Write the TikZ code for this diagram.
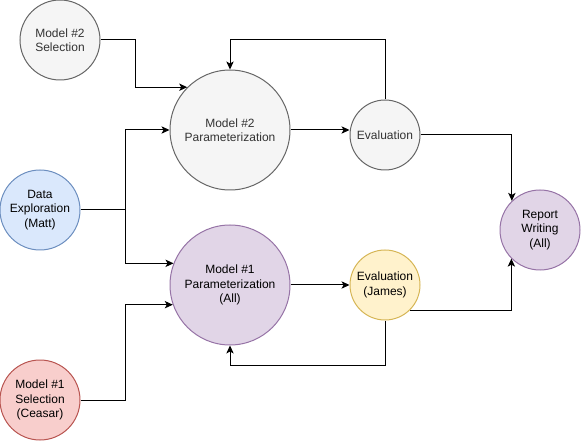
\documentclass[tikz,border=0pt]{standalone}
\usepackage{fontspec}
\setmainfont{Liberation Sans}
\usetikzlibrary{arrows.meta}
\definecolor{grayfill}{HTML}{F5F5F5}
\definecolor{graydraw}{HTML}{666666}
\definecolor{graytext}{HTML}{333333}
\definecolor{bluefill}{HTML}{DAE8FC}
\definecolor{bluedraw}{HTML}{6C8EBF}
\definecolor{purpfill}{HTML}{E1D5E7}
\definecolor{purpdraw}{HTML}{9673A6}
\definecolor{yelfill}{HTML}{FFF2CC}
\definecolor{yeldraw}{HTML}{D6B656}
\definecolor{redfill}{HTML}{F8CECC}
\definecolor{reddraw}{HTML}{B85450}
\tikzset{
  circ/.style={circle, draw, line width=0.75pt, inner sep=0pt, align=center,
    font=\fontsize{9pt}{10.75pt}\selectfont},
  graynode/.style={circ, fill=grayfill, draw=graydraw, text=graytext},
  bluenode/.style={circ, fill=bluefill, draw=bluedraw},
  purpnode/.style={circ, fill=purpfill, draw=purpdraw},
  yelnode/.style={circ, fill=yelfill, draw=yeldraw},
  rednode/.style={circ, fill=redfill, draw=reddraw},
  arr/.style={line width=0.75pt, -{Stealth[length=6pt,width=5.5pt,inset=1.5pt]}},
}
\begin{document}
\begin{tikzpicture}[x=0.75pt,y=-0.75pt]
\useasboundingbox (0,0) rectangle (581,441);
\node[graynode, minimum size=60pt] (m2sel) at (60,40) {Model \#2\\Selection};
\node[graynode, minimum size=90pt] (m2par) at (230,130) {Model \#2\\Parameterization};
\node[graynode, minimum size=52.5pt] (eval2) at (385,135) {Evaluation};
\node[bluenode, minimum size=60pt] (dexp) at (40,210) {Data\\Exploration\\(Matt)};
\node[purpnode, minimum size=90pt] (m1par) at (230,285) {Model \#1\\Parameterization\\(All)};
\node[yelnode, minimum size=52.5pt] (evalj) at (385,285) {Evaluation\\(James)};
\node[purpnode, minimum size=60pt] (report) at (540,230) {Report\\Writing\\(All)};
\node[rednode, minimum size=60pt] (m1sel) at (40,400) {Model \#1\\Selection\\(Ceasar)};

\draw[arr] (m2sel.east) -- ++(35,0) |- (m2par.135.6);
\draw[arr] (dexp.east) -- ++(45,0) |- (m2par.west);
\draw[arr] (dexp.east) -- ++(45,0) |- (m1par.159.5);
\draw[arr] (m1sel.east) -- ++(45,0) |- (m1par.199.5);
\draw[arr] (m2par.east) -- (eval2.west |- m2par.east);
\draw[arr] (eval2.north) -- ++(0,-60) -| (m2par.north);
\draw[arr] (eval2.east) -| (report.134.4);
\draw[arr] (m1par.east) -- (evalj.west);
\draw[arr] (evalj.315) -| (report.225.6);
\draw[arr] (evalj.south) -- ++(0,45) -| (m1par.south);
\end{tikzpicture}
\end{document}
